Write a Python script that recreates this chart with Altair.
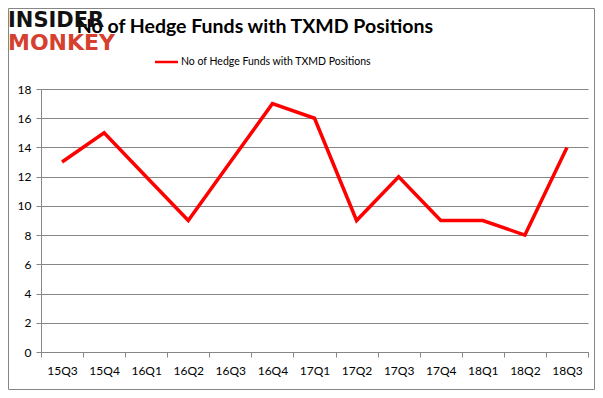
import altair as alt
import pandas as pd

quarters = ["15Q3", "15Q4", "16Q1", "16Q2", "16Q3", "16Q4", "17Q1",
            "17Q2", "17Q3", "17Q4", "18Q1", "18Q2", "18Q3"]
funds = [13, 15, 12, 9, 13, 17, 16, 9, 12, 9, 9, 8, 14]
y_ticks = [0, 2, 4, 6, 8, 10, 12, 14, 16, 18]
title_text = "No of Hedge Funds with TXMD Positions"
legend_label = "No of Hedge Funds with TXMD Positions"
logo_top = "INSIDER"
logo_bottom = "MONKEY"

df = pd.DataFrame({"quarter": quarters, "funds": funds})
one = pd.DataFrame({"k": [0]})

GRAY = "#868686"
RED = "#FF0000"
FONT = "Lato"

W, H = 547, 263
PAD_L, PAD_T = 33, 81
PAD_R = 587 - PAD_L - W
PAD_B = 382 - PAD_T - H

x = alt.X(
    "quarter:N", sort=quarters, bandPosition=0.5,
    scale=alt.Scale(type="band", paddingInner=0, paddingOuter=0),
    axis=alt.Axis(title=None, labelAngle=0, tickBand="extent", grid=False,
                  domainColor=GRAY, tickColor=GRAY, tickSize=5, labelPadding=8,
                  labelFont=FONT, labelFontSize=12, labelColor="#000000"),
)
y = alt.Y(
    "funds:Q",
    scale=alt.Scale(domain=[0, 18], nice=False, zero=True),
    axis=alt.Axis(title=None, values=y_ticks, grid=True, gridColor=GRAY,
                  domainColor=GRAY, tickColor=GRAY, tickSize=5, labelPadding=5,
                  labelFont=FONT, labelFontSize=12, labelColor="#000000"),
)

line = alt.Chart(df).mark_line(color=RED, strokeWidth=3.5, strokeJoin="miter").encode(x=x, y=y)

title = alt.Chart(one).mark_text(
    text=title_text, font=FONT, fontSize=19.5, fontWeight="bold",
    align="right", baseline="alphabetic", color="#000000",
).encode(x=alt.value(392), y=alt.value(-56))

legend_line = alt.Chart(one).mark_rule(color=RED, strokeWidth=2.5).encode(
    x=alt.value(114), x2=alt.value(137), y=alt.value(-27))
legend_text = alt.Chart(one).mark_text(
    text=legend_label, font=FONT, fontSize=10.5, align="left", baseline="middle",
    color="#000000",
).encode(x=alt.value(140), y=alt.value(-27))

logo1 = alt.Chart(one).mark_text(
    text=logo_top, font="DejaVu Sans", fontSize=21, fontWeight="bold",
    align="left", baseline="alphabetic", color="#111111",
).encode(x=alt.value(-33), y=alt.value(-62))
logo2 = alt.Chart(one).mark_text(
    text=logo_bottom, font="DejaVu Sans", fontSize=22, fontWeight="bold",
    align="left", baseline="alphabetic", color="#D6402F",
).encode(x=alt.value(-33), y=alt.value(-39))

border = alt.Chart(one).mark_rect(fill=None, stroke=GRAY, strokeWidth=1).encode(
    x=alt.value(-PAD_L + 0.5), x2=alt.value(W + PAD_R - 0.5),
    y=alt.value(-PAD_T + 0.5), y2=alt.value(H + PAD_B - 0.5))

chart = alt.layer(border, line, title, legend_line, legend_text, logo1, logo2).properties(
    width=W, height=H,
    autosize=alt.AutoSizeParams(type="none"),
    padding={"left": PAD_L, "top": PAD_T, "right": PAD_R, "bottom": PAD_B},
    background="#FFFFFF",
).configure_view(stroke=None)

chart.save("out.html", embed_options={"renderer": "svg", "actions": False})
